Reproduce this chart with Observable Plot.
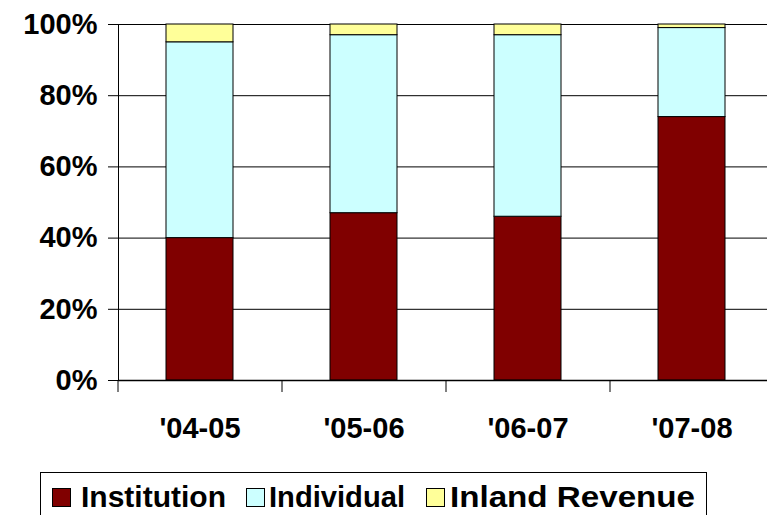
<!DOCTYPE html>
<html>
<head>
<meta charset="utf-8">
<script src="https://cdn.jsdelivr.net/npm/d3@7"></script>
<script src="https://cdn.jsdelivr.net/npm/@observablehq/plot@0.6"></script>
<style>
  html, body { margin: 0; padding: 0; background: #fff; }
  #wrap { position: relative; width: 767px; height: 515px; overflow: hidden; font-family: "Liberation Sans", Arial, sans-serif; }
  #chart svg { display: block; }
  #legend { position: absolute; left: 0; top: 0; }
</style>
</head>
<body>
<div id="wrap">
  <div id="chart"></div>
  <svg id="legend" width="767" height="515"></svg>
</div>
<script>
const periods = ["'04-05", "'05-06", "'06-07", "'07-08"];
const institution = [40, 47, 46, 74];
const individual = [55, 50, 51, 25];
const inlandRevenue = [5, 3, 3, 1];
const seriesNames = ["Institution", "Individual", "Inland Revenue"];
const seriesColors = ["#800000", "#CCFFFF", "#FFFF99"];
const yTicks = [0, 20, 40, 60, 80, 100];

const seriesValues = [institution, individual, inlandRevenue];
const table = [];
seriesNames.forEach((s, si) => {
  periods.forEach((p, pi) => table.push({period: p, series: s, value: seriesValues[si][pi]}));
});

const W = 767, H = 470;
const xRange = [118, 774];
const step = (xRange[1] - xRange[0]) / periods.length;
const font = "'Liberation Sans', Arial, sans-serif";

const chart = Plot.plot({
  width: W,
  height: H,
  marginLeft: 118,
  marginRight: 0,
  marginTop: 24,
  marginBottom: 90,
  style: {fontFamily: font, background: "#fff", overflow: "visible"},
  x: {domain: periods, range: xRange, paddingInner: 0.59, paddingOuter: 0.295, axis: null},
  y: {domain: [0, 100], axis: null},
  color: {domain: seriesNames, range: seriesColors},
  marks: [
    Plot.ruleY(yTicks, {stroke: "#000", strokeWidth: 1}),
    Plot.frame({anchor: "left", stroke: "#000", strokeWidth: 1}),
    Plot.axisY({ticks: yTicks, tickFormat: d => d + "%", label: null, tickSize: 10, tickPadding: 11, fontSize: 29, fontWeight: "bold", stroke: "#000", strokeOpacity: 1, fill: "#000"}),
    Plot.ruleX(periods, {x: d => d, dx: -step / 2, y1: 0, y2: 0, insetBottom: -12, stroke: "#000"}),
    Plot.axisX({tickSize: 0, tickPadding: 37, label: null, fontSize: 29, fontWeight: "bold", fill: "#000"}),
    Plot.barY(table, {x: "period", y: "value", fill: "series", stroke: "#000", strokeWidth: 1, order: seriesNames}),
    Plot.ruleY([0], {stroke: "#000", strokeWidth: 1.5})
  ]
});
document.getElementById("chart").appendChild(chart);

// Legend (boxed, below the plot)
const legendX = [52, 246, 426];      // swatch left edges
const legendTextX = [81, 269, 450];  // text left edges
const legendTextW = [145, 136, 245]; // text widths
const lg = d3.select("#legend");
lg.append("rect").attr("x", 40.5).attr("y", 472.5).attr("width", 666).attr("height", 60)
  .attr("fill", "none").attr("stroke", "#000").attr("stroke-width", 1);
seriesNames.forEach((s, i) => {
  lg.append("rect").attr("x", legendX[i] + 0.5).attr("y", 488.5).attr("width", 18).attr("height", 18)
    .attr("fill", seriesColors[i]).attr("stroke", "#000").attr("stroke-width", 1);
  lg.append("text").attr("x", legendTextX[i]).attr("y", 507)
    .attr("font-family", font).attr("font-weight", "bold").attr("font-size", 29)
    .attr("textLength", legendTextW[i]).attr("lengthAdjust", "spacingAndGlyphs")
    .attr("fill", "#000").text(s);
});
</script>
</body>
</html>
